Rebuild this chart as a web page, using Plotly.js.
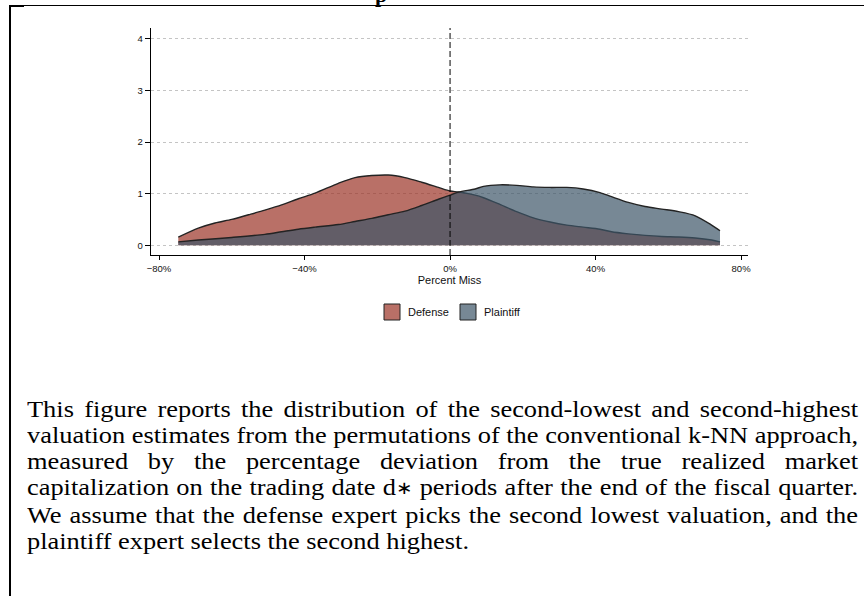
<!DOCTYPE html>
<html>
<head>
<meta charset="utf-8">
<script src="https://cdn.plot.ly/plotly-3.0.1.min.js"></script>
<style>
  html, body { margin: 0; padding: 0; background: #fff; }
  #page { position: relative; width: 864px; height: 596px; overflow: hidden; background: #fff; }
  #chart { position: absolute; left: 0; top: 0; width: 864px; height: 596px; }
  #frameLeft { position: absolute; left: 9px; top: 5px; width: 2px; height: 600px; background: #000; }
  #frameTop { position: absolute; left: 9px; top: 5px; width: 860px; height: 1px; background: #000; }
  #frameTopThick { position: absolute; left: 9px; top: 5px; width: 15px; height: 2px; background: #000; }
  #cutTitle { position: absolute; left: 375px; top: -18px; font-family: "Liberation Serif", serif; font-weight: bold; font-size: 22px; color: #000; }
  #caption { position: absolute; left: 27px; top: 396px; transform-origin: 0 0;
             font-family: "Liberation Serif", "Times New Roman", serif; font-size: 24px; line-height: 26px; color: #000; }
  #caption .ln { white-space: nowrap; text-align: justify; text-align-last: justify; }
  #caption .ln.last { text-align-last: left; }
  #caption .ast { font-size: 0.75em; position: relative; top: -0.05em; }
</style>
</head>
<body>
<div id="page">
  <div id="chart"></div>
  <div id="cutTitle">p</div>
  <div id="frameTop"></div>
  <div id="frameTopThick"></div>
  <div id="frameLeft"></div>
  <div id="caption">
    <div class="ln">This figure reports the distribution of the second-lowest and second-highest</div>
    <div class="ln">valuation estimates from the permutations of the conventional k-NN approach,</div>
    <div class="ln">measured by the percentage deviation from the true realized market</div>
    <div class="ln">capitalization on the trading date d<span class="ast">∗</span> periods after the end of the fiscal quarter.</div>
    <div class="ln">We assume that the defense expert picks the second lowest valuation, and the</div>
    <div class="ln last"><span id="lastSpan">plaintiff expert selects the second highest.</span></div>
  </div>
</div>
<script>
// ---- data (percent miss, density) ----
const defenseX = [-74.7, -69.2, -64.6, -60.0, -55.4, -50.9, -46.3, -41.7, -37.1, -30.7, -26.1, -21.5, -17.0, -12.4, -7.8, -3.2, 0, 2.3, 6.9, 9.2, 13.7, 18.3, 22.9, 27.5, 32.1, 36.6, 41.2, 44.4, 49.0, 53.6, 58.2, 62.8, 67.4, 71.9, 74.2];
const defenseY = [0.155, 0.33, 0.43, 0.50, 0.59, 0.68, 0.78, 0.90, 1.01, 1.20, 1.31, 1.35, 1.36, 1.31, 1.22, 1.12, 1.05, 1.03, 0.97, 0.92, 0.79, 0.65, 0.53, 0.45, 0.39, 0.35, 0.31, 0.26, 0.22, 0.19, 0.17, 0.16, 0.14, 0.10, 0.065];

const plaintiffX = [-74.7, -69.2, -60.0, -50.9, -46.3, -41.7, -37.1, -30.7, -26.1, -21.5, -17.0, -12.4, -7.8, -3.2, 0, 2.3, 6.9, 9.2, 13.7, 18.3, 22.9, 27.5, 32.1, 36.6, 41.2, 44.4, 49.0, 53.6, 58.2, 62.8, 67.4, 71.9, 74.2];
const plaintiffY = [0.065, 0.10, 0.15, 0.21, 0.26, 0.31, 0.35, 0.40, 0.46, 0.52, 0.59, 0.66, 0.77, 0.89, 0.97, 1.03, 1.09, 1.14, 1.17, 1.16, 1.13, 1.12, 1.12, 1.09, 1.02, 0.94, 0.83, 0.75, 0.70, 0.65, 0.57, 0.39, 0.28];

const seriesNames = ["Defense", "Plaintiff"];
const xTickVals = [-80, -40, 0, 40, 80];
const xTickText = ["\u221280%", "\u221240%", "0%", "40%", "80%"];
const yTickVals = [0, 1, 2, 3, 4];

const defenseFill = "rgba(155,51,38,0.7)";
const plaintiffFill = "rgba(61,85,104,0.7)";
const outline = "#232323";

// ---- caption layout: stretch lines horizontally like the reference scan ----
(function () {
  const cap = document.getElementById("caption");
  const w = document.getElementById("lastSpan").getBoundingClientRect().width;
  const s = 442 / w;
  cap.style.width = (831 / s) + "px";
  cap.style.transform = "scaleX(" + s + ")";
})();

const traces = [
  { x: defenseX, y: defenseY, type: "scatter", mode: "lines", fill: "tozeroy",
    fillcolor: defenseFill, line: { color: outline, width: 1.4, shape: "spline", smoothing: 0.8 },
    name: seriesNames[0], showlegend: false, hoverinfo: "skip" },
  { x: plaintiffX, y: plaintiffY, type: "scatter", mode: "lines", fill: "tozeroy",
    fillcolor: plaintiffFill, line: { color: outline, width: 1.4, shape: "spline", smoothing: 0.8 },
    name: seriesNames[1], showlegend: false, hoverinfo: "skip" }
];

const sansFont = "Liberation Sans, Arial, sans-serif";
const tickFont = { family: sansFont, size: 9.5, color: "#111" };

// plot area in pixels: x 151..748, y 28..255
const px = (p) => (p - 151) / 597;
const py = (p) => (255 - p) / 227;

const legendShapes = [
  { type: "rect", xref: "paper", yref: "paper", x0: px(384), x1: px(400), y0: py(320), y1: py(304),
    fillcolor: defenseFill, line: { color: "#222", width: 1 } },
  { type: "rect", xref: "paper", yref: "paper", x0: px(460), x1: px(476), y0: py(320), y1: py(304),
    fillcolor: plaintiffFill, line: { color: "#222", width: 1 } }
];
const legendLabels = [
  { xref: "paper", yref: "paper", x: px(406), y: py(312), xanchor: "left", yanchor: "middle",
    text: seriesNames[0], showarrow: false, font: { family: sansFont, size: 11, color: "#111" } },
  { xref: "paper", yref: "paper", x: px(482), y: py(312), xanchor: "left", yanchor: "middle",
    text: seriesNames[1], showarrow: false, font: { family: sansFont, size: 11, color: "#111" } }
];

const layout = {
  width: 864, height: 596,
  margin: { l: 151, r: 116, t: 28, b: 341, pad: 0 },
  paper_bgcolor: "rgba(0,0,0,0)", plot_bgcolor: "rgba(0,0,0,0)",
  showlegend: false,
  xaxis: {
    range: [-82.2, 81.9], tickvals: xTickVals, ticktext: xTickText,
    showgrid: false, zeroline: false, showline: true, linecolor: "#000", linewidth: 1.3,
    ticks: "outside", ticklen: 4, tickwidth: 1, tickcolor: "#000", tickfont: tickFont,
    title: { text: "Percent Miss", font: { family: sansFont, size: 11, color: "#111" }, standoff: 0 },
    fixedrange: true
  },
  yaxis: {
    range: [-0.19, 4.21], tickvals: yTickVals,
    showgrid: true, gridcolor: "#c4c4c4", griddash: "dot", gridwidth: 1,
    zeroline: false, showline: true, linecolor: "#000", linewidth: 1.3,
    ticks: "outside", ticklen: 5, tickwidth: 1, tickcolor: "#000", tickfont: tickFont,
    fixedrange: true
  },
  shapes: [
    { type: "line", xref: "x", yref: "paper", x0: 0, x1: 0, y0: 0, y1: 1,
      line: { color: "#000", width: 1, dash: "6px,3px" } }
  ].concat(legendShapes),
  annotations: legendLabels
};

Plotly.newPlot("chart", traces, layout, { staticPlot: true, displayModeBar: false });
</script>
</body>
</html>
